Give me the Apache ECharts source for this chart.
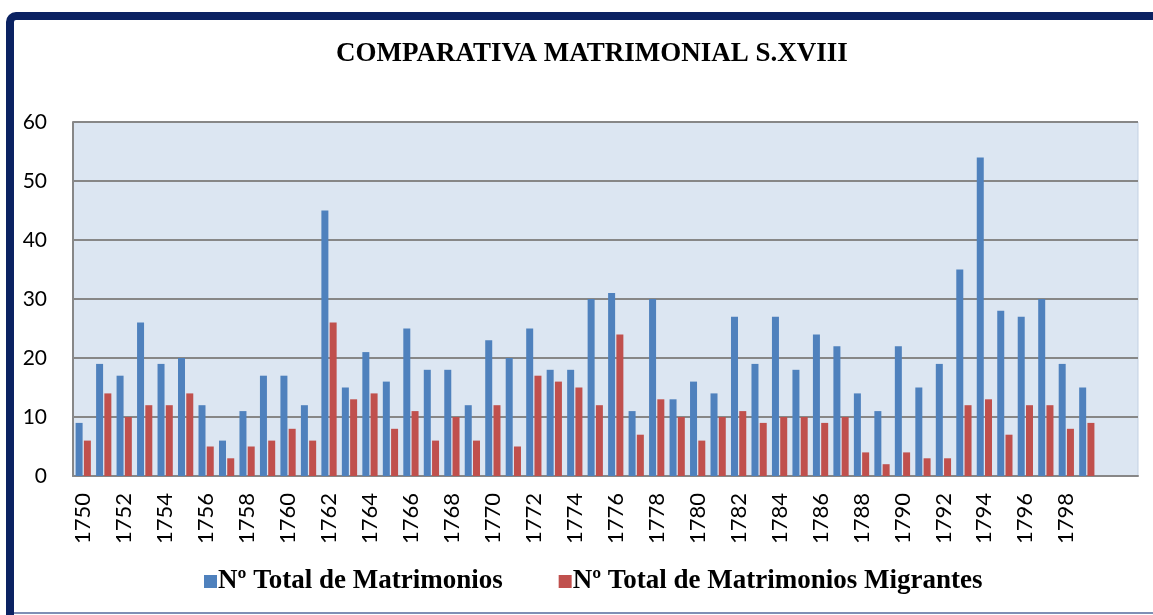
<!DOCTYPE html>
<html>
<head>
<meta charset="utf-8">
<script src="https://cdn.jsdelivr.net/npm/echarts@6/dist/echarts.min.js"></script>
<style>
html,body{margin:0;padding:0;background:#fff;}
#chart{width:1153px;height:615px;}
</style>
</head>
<body>
<div id="chart"></div>
<script>
const years = ['1750','1751','1752','1753','1754','1755','1756','1757','1758','1759',
  '1760','1761','1762','1763','1764','1765','1766','1767','1768','1769',
  '1770','1771','1772','1773','1774','1775','1776','1777','1778','1779',
  '1780','1781','1782','1783','1784','1785','1786','1787','1788','1789',
  '1790','1791','1792','1793','1794','1795','1796','1797','1798','1799','',''];
const totalMatrimonios = [9,19,17,26,19,20,12,6,11,17,
  17,12,45,15,21,16,25,18,18,12,
  23,20,25,18,18,30,31,11,30,13,
  16,14,27,19,27,18,24,22,14,11,
  22,15,19,35,54,28,27,30,19,15];
const totalMigrantes = [6,14,10,12,12,14,5,3,5,6,
  8,6,26,13,14,8,11,6,10,6,
  12,5,17,16,15,12,24,7,13,10,
  6,10,11,9,10,10,9,10,4,2,
  4,3,3,12,13,7,12,12,8,9];
const seriesNames = ['Nº Total de Matrimonios','Nº Total de Matrimonios Migrantes'];
const titleText = 'COMPARATIVA MATRIMONIAL S.XVIII';

const chart = echarts.init(document.getElementById('chart'), null, {renderer:'canvas'});
chart.setOption({
  animation:false,
  backgroundColor:'#ffffff',
  title:{
    text:titleText, left:331, top:36,
    textStyle:{fontFamily:'Liberation Serif', fontWeight:'bold', fontSize:27, color:'#000'}
  },
  graphic:[
    {type:'rect', shape:{x:10, y:16, width:1300, height:800, r:6},
     style:{fill:'none', stroke:'#0b2262', lineWidth:8}, z:100},
    {type:'rect', shape:{x:14, y:612, width:1139, height:2},
     style:{fill:'#7f8fb5'}, z:100}
  ],
  legend:{
    data:seriesNames, left:199, top:563, itemWidth:13, itemHeight:13, itemGap:56,
    icon:'rect',
    textStyle:{fontFamily:'Liberation Serif', fontWeight:'bold', fontSize:27, color:'#000', padding:[0,0,0,-4]}
  },
  grid:{left:73, right:15, top:122, bottom:139, show:true, backgroundColor:'#dce6f2', borderColor:'#c3d1e3', borderWidth:1},
  xAxis:{
    type:'category', data:years,
    axisTick:{show:false},
    axisLine:{lineStyle:{color:'#878787', width:2}},
    axisLabel:{interval:1, rotate:90, margin:17, fontFamily:'Lato', fontSize:22, color:'#000'}
  },
  yAxis:{
    type:'value', min:0, max:60, interval:10,
    axisLine:{show:true, lineStyle:{color:'#878787', width:2}},
    axisTick:{show:false},
    splitLine:{lineStyle:{color:'#878787', width:2}},
    axisLabel:{margin:26, fontFamily:'Lato', fontSize:21, color:'#000'}
  },
  series:[
    {name:seriesNames[0], type:'bar', data:totalMatrimonios, barWidth:7, barGap:'18%',
     itemStyle:{color:'#4f81bd'}},
    {name:seriesNames[1], type:'bar', data:totalMigrantes, barWidth:7,
     itemStyle:{color:'#c0504d'}}
  ]
});
</script>
</body>
</html>
